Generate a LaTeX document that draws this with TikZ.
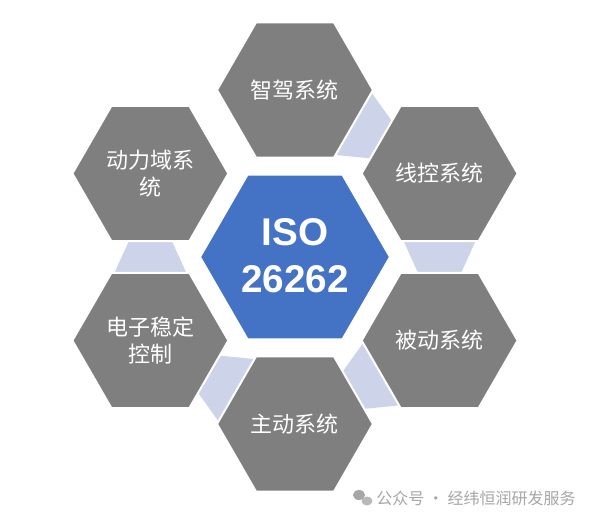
\documentclass[tikz,border=0pt]{standalone}
\usepackage{fontspec}
\setmainfont{Liberation Sans}
\newfontfamily\cjk{Noto Sans CJK SC}
\definecolor{hexgray}{HTML}{7F7F7F}
\definecolor{hexblue}{HTML}{4472C4}
\definecolor{linkblue}{HTML}{CDD4EA}
\definecolor{wmgray}{HTML}{A6A6A6}
\begin{document}
\begin{tikzpicture}[x=0.75pt,y=0.75pt,
  outerhex/.style={fill=hexgray, draw=white, line width=1.5pt, line join=miter},
  centerhex/.style={fill=hexblue, draw=white, line width=1.5pt, line join=miter},
  linkshape/.style={fill=linkblue, draw=none},
  lbl/.style={text=white, align=center, inner sep=0pt, font={\cjk\fontsize{16.5}{20}\selectfont}},
  isolbl/.style={text=white, align=center, inner sep=0pt, font={\bfseries\fontsize{29}{35}\selectfont}},
  wm/.style={text=wmgray, inner sep=0pt, font={\cjk\fontsize{12}{14}\selectfont}}]
\useasboundingbox (-295,-264) rectangle (305,257);
\fill[white] (-295,-264) rectangle (305,257);
% centers
\coordinate (c0) at (0,0);
\coordinate (h1) at (90:167);
\coordinate (h2) at (30:167);
\coordinate (h3) at (-30:167);
\coordinate (h4) at (-90:167);
\coordinate (h5) at (-150:167);
\coordinate (h6) at (150:167);
% connectors (wide side on the counter-clockwise hexagon)
\foreach \ph in {0,60,180,240,300}{
  \fill[linkshape, shift={(\ph:144.6)}, rotate=\ph-90]
    (-16,-36) -- (-16,36) -- (16,21.5) -- (16,-21.5) -- cycle;
}
% outer hexagons
\foreach \h in {h1,h2,h3,h4,h5,h6}{
  \draw[outerhex, shift={(\h)}] (0:78) -- (60:78) -- (120:78) -- (180:78) -- (240:78) -- (300:78) -- cycle;
}
% center hexagon
\draw[centerhex, shift={(c0)}] (0:95) -- (60:95) -- (120:95) -- (180:95) -- (240:95) -- (300:95) -- cycle;
% labels
\node[isolbl] (tc) at (0,1) {ISO\\26262};
\node[lbl] (t1) at (h1) {智驾系统};
\node[lbl] (t2) at (h2) {线控系统};
\node[lbl] (t3) at (h3) {被动系统};
\node[lbl] (t4) at (h4) {主动系统};
\node[lbl] (t5) at (h5) {电子稳定\\控制};
\node[lbl] (t6) at (h6) {动力域系\\统};
% watermark
\fill[wmgray] (64,-238) ellipse (6 and 5);
\fill[wmgray!80] (72,-244) ellipse (5.5 and 4.5);
\node[wm] (wm) at (181,-241) {公众号 · 经纬恒润研发服务};
\end{tikzpicture}
\end{document}
